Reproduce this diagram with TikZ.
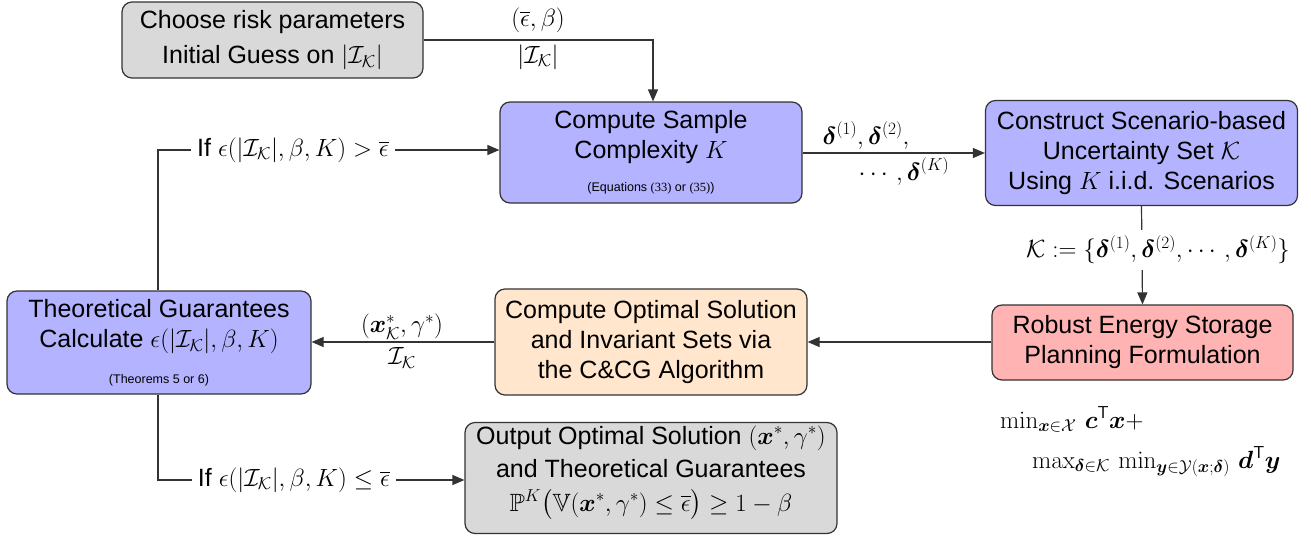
\documentclass[tikz,border=0pt]{standalone}
\usepackage{amsmath,amssymb}
\usepackage{bm}
\usepackage[no-math]{fontspec}
\setmainfont{Liberation Sans}
\newfontfamily\serifdig{Liberation Serif}
\usetikzlibrary{arrows.meta}
\definecolor{lav}{HTML}{B3B3FF}
\definecolor{pinkb}{HTML}{FFB3B3}
\definecolor{peach}{HTML}{FFE6CC}
\definecolor{grayb}{HTML}{D9D9D9}
\definecolor{linec}{HTML}{333333}
\newcommand{\IK}{\mathcal{I}_{\mathcal{K}}}
\newcommand{\eb}{\overline{\epsilon}}
\begin{document}
\begin{tikzpicture}[x=1pt,y=-1pt,
  every node/.style={font=\fontsize{25}{30}\selectfont, inner sep=0pt},
  box/.style={draw=black!80, line width=1.2pt, rounded corners=10pt},
  txt/.style={align=center},
  small/.style={font=\fontsize{12.5}{15}\selectfont},
  conn/.style={draw=linec, line width=1.2pt},
  arr/.style={conn, -{Triangle[length=12pt,width=10pt]}},
  lbl/.style={fill=white, inner sep=6pt}
]
\useasboundingbox (0,0) rectangle (1311,536);

% boxes
\node[box, fill=grayb, minimum width=301pt, minimum height=76pt] (b1) at (272.5,40) {};
\node[txt] (t1) at (272.5,40) {Choose risk parameters\\[5pt]Initial Guess on $|\IK|$};

\node[box, fill=lav, minimum width=302pt, minimum height=101pt] (b2) at (651,152.5) {};
\node[txt] (t2) at (651,137) {Compute Sample\\Complexity $K$};
\node[small] (s2) at (651,188) {(Equations {\serifdig(33)} or {\serifdig(35)})};

\node[box, fill=lav, minimum width=312pt, minimum height=105pt] (b3) at (1141.5,153) {};
\node[txt] (t3) at (1141.5,153) {Construct Scenario-based\\Uncertainty Set $\mathcal{K}$\\Using $K$ i.i.d. Scenarios};

\node[box, fill=pinkb, minimum width=301pt, minimum height=75pt] (b4) at (1142.5,342.5) {};
\node[txt] (t4) at (1142.5,342.5) {Robust Energy Storage\\Planning Formulation};

\node[box, fill=peach, minimum width=312pt, minimum height=106pt] (b5) at (651,342) {};
\node[txt] (t5) at (651,342) {Compute Optimal Solution\\and Invariant Sets via\\the C\&CG Algorithm};

\node[box, fill=lav, minimum width=304pt, minimum height=103pt] (b6) at (159,342.5) {};
\node[txt] (t6) at (159,327) {Theoretical Guarantees\\Calculate $\epsilon(|\IK|,\beta,K)$};
\node[small] (s6) at (159,380) {(Theorems 5 or 6)};

\node[box, fill=grayb, minimum width=372pt, minimum height=111pt] (b7) at (651,478) {};
\node[anchor=base] (t7a) at (651,444) {Output Optimal Solution $(\bm{x}^{*},\gamma^{*})$};
\node[anchor=base] (t7b) at (651,477) {and Theoretical Guarantees};
\node[anchor=base] (t7c) at (651,511) {$\mathbb{P}^{K}\bigl(\mathbb{V}(\bm{x}^{*},\gamma^{*})\leq\eb\bigr)\geq 1-\beta$};

% formula
\node[anchor=base west] (f1) at (1000,428) {$\min_{\bm{x}\in\mathcal{X}}\,\bm{c}^{\mathsf{T}}\bm{x}+$};
\node[anchor=base west] (f2) at (1032,468) {$\max_{\bm{\delta}\in\mathcal{K}}\,\min_{\bm{y}\in\mathcal{Y}(\bm{x};\bm{\delta})}\,\bm{d}^{\mathsf{T}}\bm{y}$};

% connectors
\coordinate (c1) at (653,40);
\draw[arr] (b1.east) -- (c1) -- (b2.north -| c1);
\node (l1a) at (538,20) {$(\eb,\beta)$};
\node (l1b) at (538,57) {$|\IK|$};

\draw[arr] (b2.east |- 0,153) -- (b3.west |- 0,153);
\node[anchor=base] (l2a) at (866,144) {$\bm{\delta}^{(1)},\bm{\delta}^{(2)},$};
\node[anchor=base] (l2b) at (904,180) {$\cdots,\bm{\delta}^{(K)}$};

\draw[arr] (b3.south) -- (b4.north);
\node[lbl] (l3) at (1158,250) {$\mathcal{K}:=\{\bm{\delta}^{(1)},\bm{\delta}^{(2)},\cdots,\bm{\delta}^{(K)}\}$};

\draw[arr] (b4.west |- 0,342) -- (b5.east |- 0,342);

\draw[arr] (b5.west |- 0,342) -- (b6.east |- 0,342);
\node (l5a) at (402,327) {$(\bm{x}^{*}_{\mathcal{K}},\gamma^{*})$};
\node (l5b) at (402,358) {$\IK$};

\coordinate (c6a) at (158,150);
\draw[arr] (b6.north -| c6a) -- (c6a) -- (b2.west |- c6a);
\node[lbl, fill=white] (l6a) at (293,150) {If $\epsilon(|\IK|,\beta,K)>\eb$};

\coordinate (c6b) at (158,480);
\draw[arr] (b6.south -| c6b) -- (c6b) -- (b7.west |- c6b);
\node[lbl] (l6b) at (294,480) {If $\epsilon(|\IK|,\beta,K)\leq\eb$};
\end{tikzpicture}
\end{document}
